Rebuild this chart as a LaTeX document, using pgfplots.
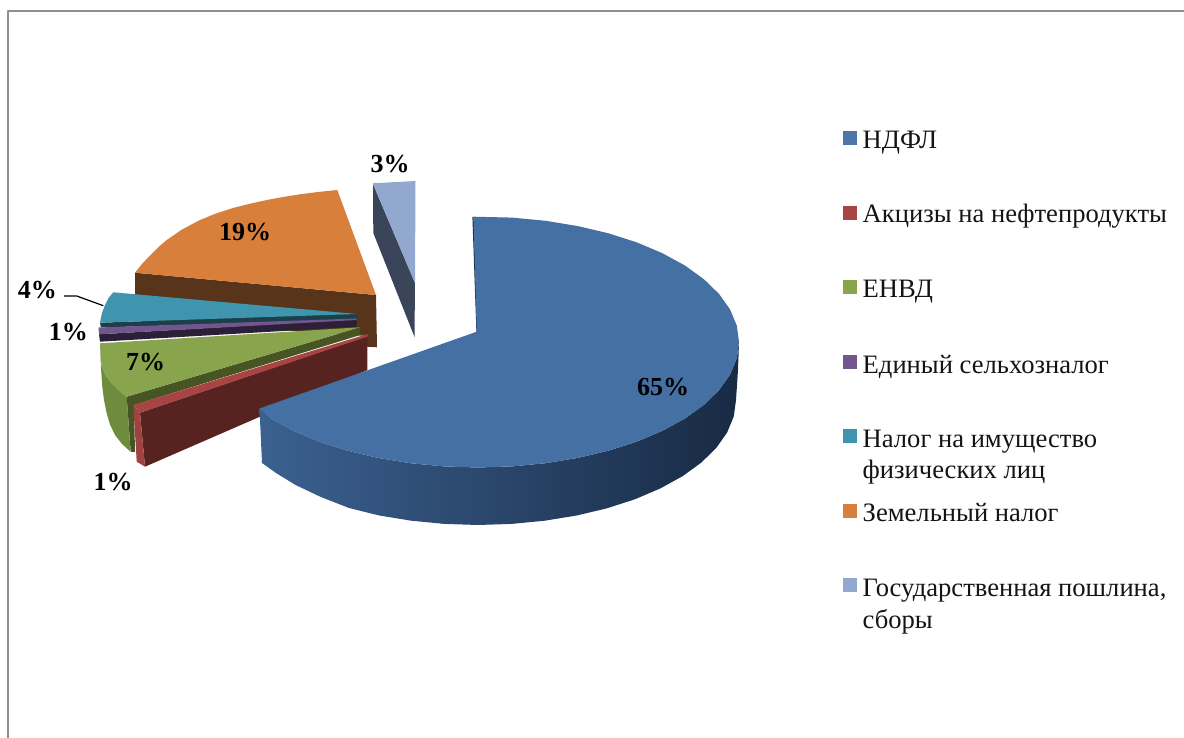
\documentclass[border=0pt]{standalone}
\usepackage{fontspec}
\setmainfont{Liberation Serif}
\usepackage{pgfplots}
\pgfplotsset{compat=1.18}
\definecolor{bT}{HTML}{4470A4}
\definecolor{bL}{HTML}{3B6190}
\definecolor{bM}{HTML}{28415F}
\definecolor{bR}{HTML}{182A44}
\definecolor{rT}{HTML}{A84543}
\definecolor{rD}{HTML}{572321}
\definecolor{gT}{HTML}{88A44D}
\definecolor{gS}{HTML}{6F8C3E}
\definecolor{gD}{HTML}{465523}
\definecolor{pT}{HTML}{74568F}
\definecolor{pD}{HTML}{2B2038}
\definecolor{tT}{HTML}{3F94AE}
\definecolor{tD}{HTML}{1C3F4A}
\definecolor{oT}{HTML}{D87F3C}
\definecolor{oD}{HTML}{57341A}
\definecolor{sT}{HTML}{92A8CE}
\definecolor{sD}{HTML}{3A4559}
\definecolor{fr}{HTML}{8F8F8F}
\newcommand{\pct}[3]{\node[font=\fontsize{26}{30}\selectfont\bfseries,anchor=center,inner sep=0pt] at (axis cs:#1,#2) {#3};}
\newcommand{\leg}[3]{\node[font=\fontsize{26.6}{30}\selectfont,anchor=base west,inner sep=0pt,text=black!92] at (axis cs:#1,#2) {#3};}
\begin{document}
\begin{tikzpicture}
\path[use as bounding box] (0,0) rectangle (1184pt,738pt);
\begin{axis}[
  scale only axis,width=1184pt,height=738pt,
  at={(0,0)},anchor=south west,
  xmin=0,xmax=1184,ymin=0,ymax=738,y dir=reverse,
  hide axis,clip=true,
  every axis plot/.append style={no markers,line join=round}]
% frame
\addplot[fr,line width=2pt] coordinates {(8,738) (8,11) (1184,11)};
% orange slice
\addplot[fill=oD,draw=none] coordinates {(135,272.7) (376,295) (377,347.3) (366.7,346.7) (366.7,336) (135,320)} --cycle;
\addplot[fill=oT,draw=none] coordinates {(135,272.7) (142,264) (150,255.5) (158,247.5) (166.7,240) (182,229.5) (200,220) (216,213.5) (233,208) (250,203.7) (267,200) (283,197) (300,194.3) (318,192) (337.3,190) (376,295)} --cycle;
% teal slice
\addplot[fill=tD,draw=none] coordinates {(100,322.7) (357.3,313.5) (357.3,319.8) (101,327.5)} --cycle;
\addplot[fill=tT,draw=none] coordinates {(113.3,292.3) (357.3,314) (100,322.7) (102,313) (105,305) (108.5,298)} --cycle;
% purple slice
\addplot[fill=pD,draw=none] coordinates {(99,334.3) (356.7,319.3) (356.7,326.7) (100,341.7)} --cycle;
\addplot[fill=pT,draw=none] coordinates {(98.5,327.5) (356.7,318.5) (356.7,320) (99,334.3)} --cycle;
% green slice
\addplot[fill=gS,draw=none] coordinates {(100,343.3) (101,368) (102.3,386.7) (104,400) (106.7,413.3) (110,424.5) (115,435) (122,444) (130.5,451.7) (126.7,396.7) (119,390.5) (111.7,383.3) (106,376) (101.7,366.7) (100.5,355)} --cycle;
\addplot[fill=gD,draw=none] coordinates {(126.7,396.7) (360,327.3) (360.3,335) (134,405) (135,452) (130.7,451.7)} --cycle;
\addplot[fill=gT,draw=none] coordinates {(100,343.3) (360,327.3) (126.7,396.7) (119,390.5) (111.7,383.3) (106,376) (101.7,366.7) (100.5,355)} --cycle;
% red slice
\addplot[fill=rD,draw=none] coordinates {(140,412.7) (367.3,336) (367.3,370) (145,466.7)} --cycle;
\addplot[fill=rT,draw=none] coordinates {(133.3,405) (367.7,334) (367.7,336.5) (140,412.7)} --cycle;
\addplot[fill=rT!95!black,draw=none] coordinates {(133.3,405) (140,412.7) (145,466.7) (136.7,461.7)} --cycle;
% blue slice side
\addplot[left color=bL,middle color=bM,right color=bR,draw=none] coordinates {(259.5,408.5) (272.3,419.3) (293.4,430.7) (319.1,441.6) (347.5,450.7) (378.1,457.9) (410.4,463.2) (443.9,466.4) (478,467.5) (512.1,466.4) (545.6,463.2) (577.9,457.9) (608.5,450.7) (636.9,441.6) (662.6,430.7) (685.1,418.4) (704,404.75) (719.1,390) (730.1,374.5) (736.8,358.4) (739,342) (738,370) (736,400) (733.8,416.3) (727.2,432.4) (716.4,447.8) (701.4,462.5) (682.7,476.1) (660.4,488.4) (635.1,499.2) (607,508.3) (576.7,515.5) (544.8,520.7) (511.7,523.9) (478,525) (444.3,523.9) (411.2,520.7) (379.3,515.5) (349,508) (320.9,497) (295.6,485) (276,473) (262,463)} --cycle;
\addplot[bR,line width=1.2pt] coordinates {(473,217) (477,332)};
% blue slice top
\addplot[fill=bT,draw=none] coordinates {(473.4,216.7) (512.1,217.6) (545.6,220.8) (577.9,226.1) (608.5,233.3) (636.9,242.4) (662.6,253.3) (685.1,265.6) (704,279.3) (719.1,294) (730.1,309.5) (736.8,325.6) (739,342) (736.8,358.4) (730.1,374.5) (719.1,390) (704,404.75) (685.1,418.4) (662.6,430.7) (636.9,441.6) (608.5,450.7) (577.9,457.9) (545.6,463.2) (512.1,466.4) (478,467.5) (443.9,466.4) (410.4,463.2) (378.1,457.9) (347.5,450.7) (319.1,441.6) (293.4,430.7) (272.3,419.3) (259.5,408.5) (476.7,331.7)} --cycle;
% light slice
\addplot[fill=sD,draw=none] coordinates {(373,184) (415,283) (414.5,337) (373.3,233)} --cycle;
\addplot[fill=sT,draw=none] coordinates {(372.7,183.3) (415.5,181) (415,283)} --cycle;
% leader
\addplot[black,line width=1.2pt] coordinates {(64,296) (76.7,296) (103.3,305.7)};
% legend swatches
\addplot[fill=bT!95!white,draw=none] coordinates {(843.3,131) (856.8,131) (856.8,145) (843.3,145)} --cycle;
\addplot[fill=rT,draw=none] coordinates {(843.3,206) (856.8,206) (856.8,220) (843.3,220)} --cycle;
\addplot[fill=gT,draw=none] coordinates {(843.3,280) (856.8,280) (856.8,294) (843.3,294)} --cycle;
\addplot[fill=pT,draw=none] coordinates {(843.3,355) (856.8,355) (856.8,369) (843.3,369)} --cycle;
\addplot[fill=tT,draw=none] coordinates {(843.3,429.3) (856.8,429.3) (856.8,443.3) (843.3,443.3)} --cycle;
\addplot[fill=oT,draw=none] coordinates {(843.3,504) (856.8,504) (856.8,518) (843.3,518)} --cycle;
\addplot[fill=sT,draw=none] coordinates {(843.3,578) (856.8,578) (856.8,592) (843.3,592)} --cycle;
\pct{390}{164}{3\%}
\pct{245}{232}{19\%}
\pct{37.3}{290}{4\%}
\pct{68.3}{332}{1\%}
\pct{145.7}{362}{7\%}
\pct{113}{482}{1\%}
\pct{663}{387}{65\%}
\leg{862.5}{149}{НДФЛ}
\leg{862.5}{223}{Акцизы на нефтепродукты}
\leg{862.5}{297.3}{ЕНВД}
\leg{862.5}{373}{Единый сельхозналог}
\leg{862.5}{447}{Налог на имущество}
\leg{862.5}{478}{физических лиц}
\leg{862.5}{521.3}{Земельный налог}
\leg{862.5}{596.3}{Государственная пошлина,}
\leg{862.5}{628}{сборы}
\end{axis}
\end{tikzpicture}
\end{document}
